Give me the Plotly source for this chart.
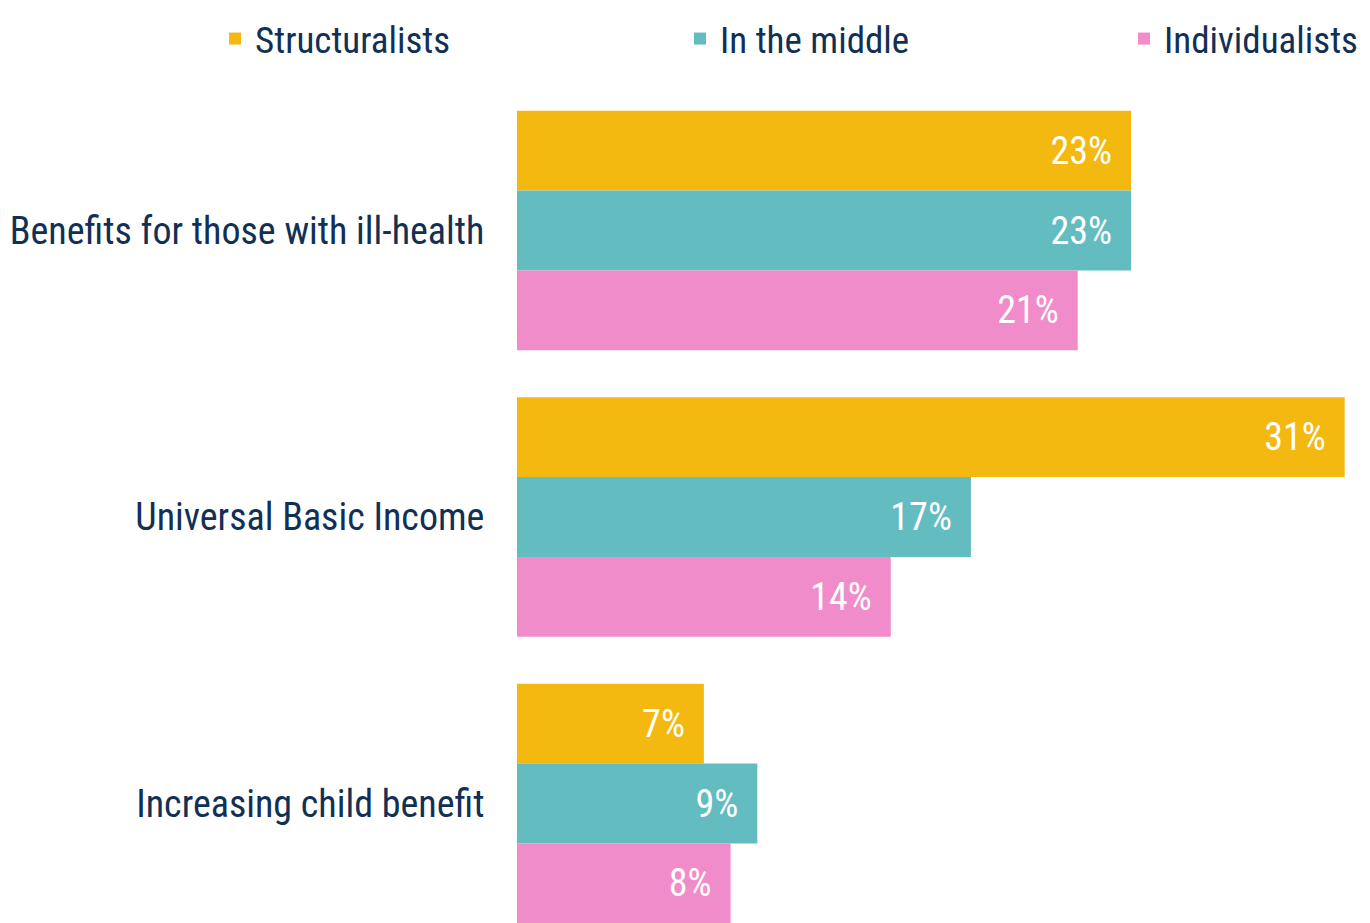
import plotly.graph_objects as go

categories = ["Benefits for those with ill-health", "Universal Basic Income", "Increasing child benefit"]
series_names = ["Structuralists", "In the middle", "Individualists"]
structuralists = [23, 31, 7]
in_the_middle = [23, 17, 9]
individualists = [21, 14, 8]
series_values = [structuralists, in_the_middle, individualists]
colors = ["#F3B911", "#63BCC0", "#F08CC9"]

FONT = "Roboto Condensed, Liberation Sans Narrow, sans-serif"
NAVY = "#122F55"
PAD = "\u00a0\u2009"
FS = 38

# page body has an 8px default margin, so the figure is offset by 8px
OFF = 8
W, H = 1370 - OFF, 923 - OFF

legend_ids = ["legend", "legend2", "legend3"]
legend_x = [229, 694, 1138]  # left edge of legend swatch in window px

fig = go.Figure()
for name, vals, col, lid in zip(series_names, series_values, colors, legend_ids):
    fig.add_trace(go.Bar(
        y=categories, x=vals, name=name, orientation="h",
        marker=dict(color=col, line=dict(width=0)),
        text=[f"{v}%{PAD}" for v in vals],
        textposition="inside", insidetextanchor="end",
        textfont=dict(family=FONT, size=FS, color="white"),
        hoverinfo="skip", legend=lid,
    ))

legend_common = dict(
    orientation="h", xref="container", yref="container",
    yanchor="top", y=1.0, xanchor="left",
    font=dict(family=FONT, size=37, color=NAVY),
    bgcolor="rgba(0,0,0,0)", borderwidth=0,
    itemclick=False, itemdoubleclick=False,
)
legends = {}
for lid, lx in zip(legend_ids, legend_x):
    legends[lid] = dict(legend_common, x=(lx - 14 - OFF) / W)

fig.update_layout(
    width=W, height=H,
    margin=dict(l=517 - OFF, r=0, t=87 - OFF, b=0, pad=0, autoexpand=False),
    paper_bgcolor="white", plot_bgcolor="white",
    barmode="group", bargap=0.164, bargroupgap=0,
    font=dict(family=FONT, size=FS, color=NAVY),
    showlegend=True,
    uniformtext=dict(mode=False),
    **legends,
)
fig.update_xaxes(range=[0, 853/26.7], visible=False, fixedrange=True)
fig.update_yaxes(
    categoryorder="array", categoryarray=categories,
    range=[2.417, -0.501], automargin=False,
    showgrid=False, zeroline=False, showline=False,
    ticks="outside", ticklen=24, tickcolor="rgba(0,0,0,0)",
    tickfont=dict(family=FONT, size=38, color=NAVY),
    fixedrange=True,
)

fig.write_html("out.html")
